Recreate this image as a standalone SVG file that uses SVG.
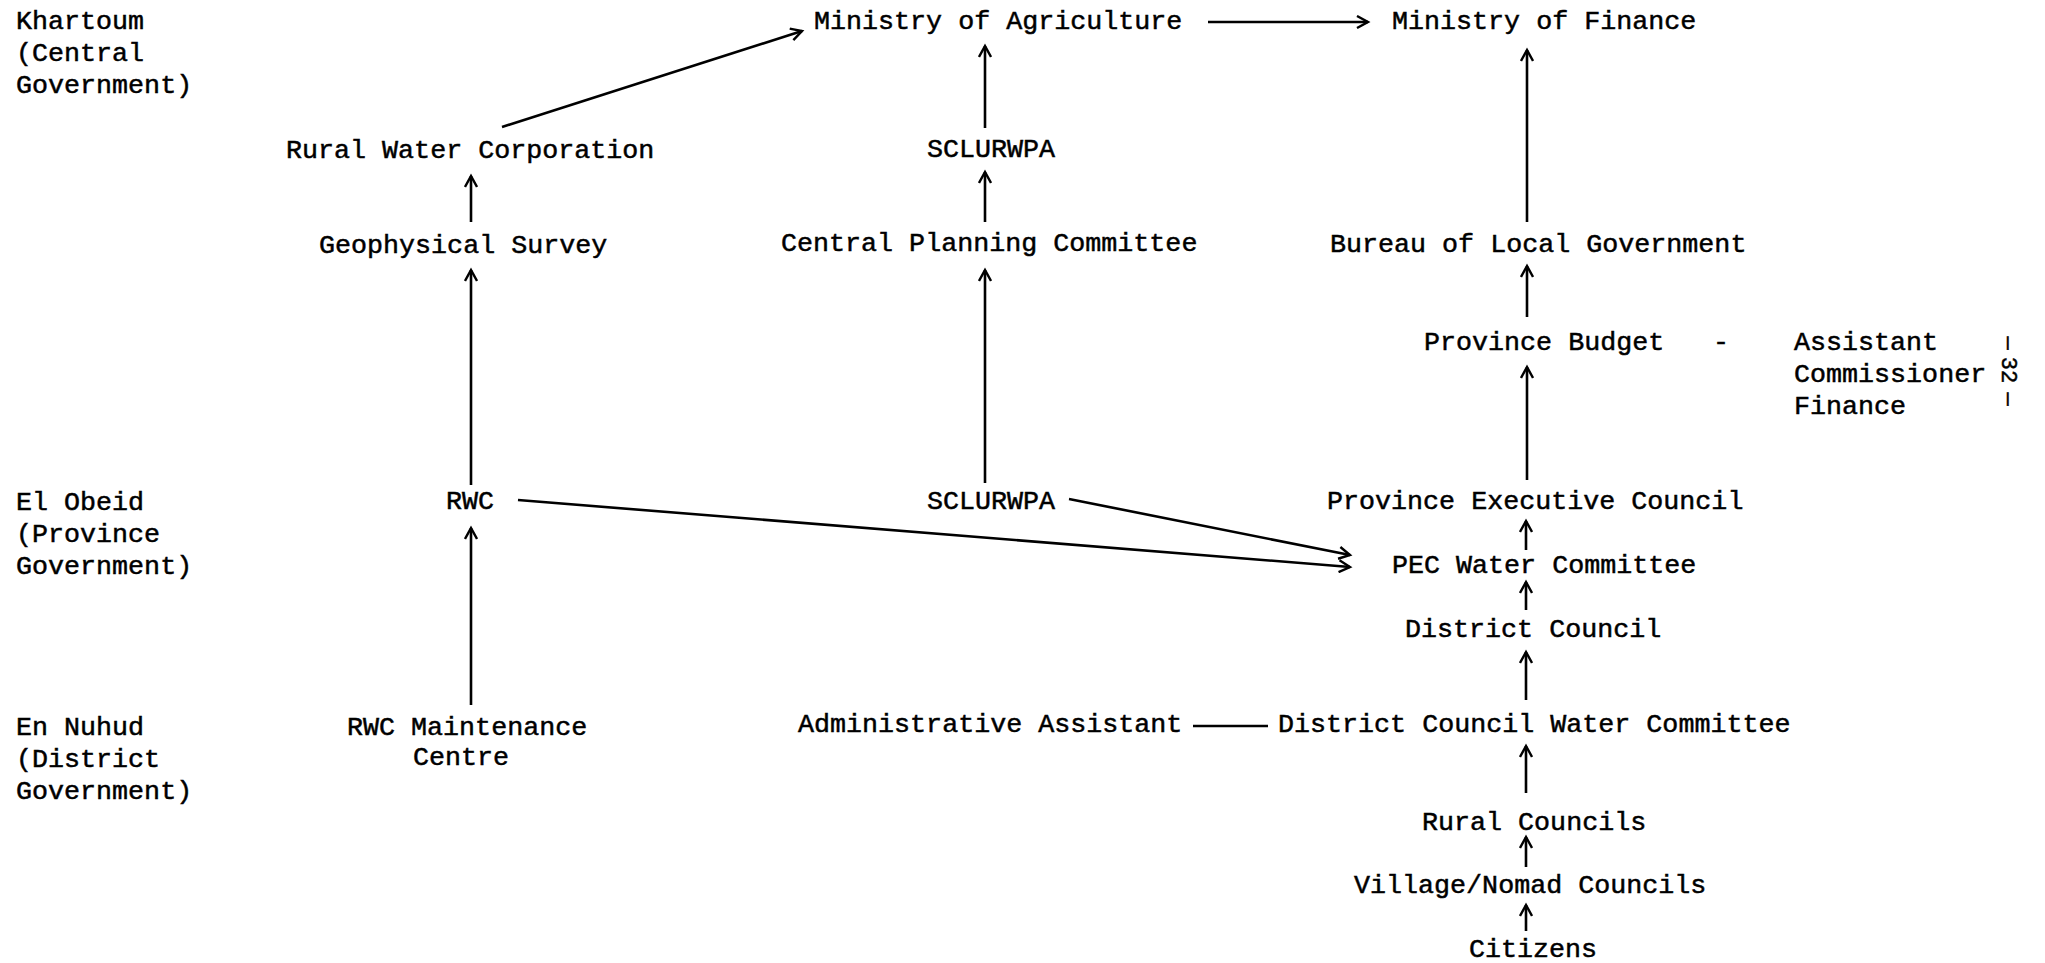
<svg xmlns="http://www.w3.org/2000/svg" width="2045" height="963" viewBox="0 0 2045 963">
<style>
text{font-family:"Liberation Mono","Courier New",monospace;font-size:26.7px;fill:#000;stroke:#000;stroke-width:0.5}
.pg{font-size:22px}
.c{stroke:#000;stroke-width:2.6;fill:none}
.a{marker-end:url(#ah)}
</style>
<defs>
<marker id="ah" markerUnits="userSpaceOnUse" markerWidth="16" markerHeight="14" refX="12" refY="7" orient="auto" viewBox="0 0 16 14">
<path d="M1,1 L12,7 L1,13" fill="none" stroke="#000" stroke-width="2.4"/>
</marker>
</defs>
<rect width="2045" height="963" fill="#fff"/>
<g id="levels">
<text x="16" y="29">Khartoum</text>
<text x="16" y="61">(Central</text>
<text x="16" y="93">Government)</text>
<text x="16" y="510">El Obeid</text>
<text x="16" y="542">(Province</text>
<text x="16" y="574">Government)</text>
<text x="16" y="735">En Nuhud</text>
<text x="16" y="767">(District</text>
<text x="16" y="799">Government)</text>
</g>
<g id="connectors">
<line class="c a" x1="502" y1="127" x2="802" y2="31"/>
<line class="c a" x1="1208" y1="22" x2="1368" y2="22"/>
<line class="c a" x1="985" y1="128" x2="985" y2="46"/>
<line class="c a" x1="985" y1="222" x2="985" y2="172"/>
<line class="c a" x1="471" y1="222" x2="471" y2="176"/>
<line class="c a" x1="471" y1="485" x2="471" y2="270"/>
<line class="c a" x1="471" y1="705" x2="471" y2="528"/>
<line class="c a" x1="985" y1="483" x2="985" y2="270"/>
<line class="c a" x1="1527" y1="222" x2="1527" y2="50"/>
<line class="c a" x1="1527" y1="317" x2="1527" y2="266"/>
<line class="c a" x1="1527" y1="480" x2="1527" y2="367"/>
<line class="c a" x1="1526" y1="550" x2="1526" y2="521"/>
<line class="c a" x1="1526" y1="610" x2="1526" y2="582"/>
<line class="c a" x1="1526" y1="700" x2="1526" y2="652"/>
<line class="c a" x1="1526" y1="793" x2="1526" y2="746"/>
<line class="c a" x1="1526" y1="867" x2="1526" y2="837"/>
<line class="c a" x1="1526" y1="931" x2="1526" y2="905"/>
<line class="c a" x1="1069" y1="499" x2="1350" y2="555"/>
<line class="c a" x1="518" y1="500" x2="1350" y2="567"/>
<line class="c" x1="1193" y1="726" x2="1268" y2="726" stroke-width="3"/>
</g>
<g id="n-minag"><text x="814" y="29">Ministry of Agriculture</text></g>
<g id="n-minfin"><text x="1392" y="29">Ministry of Finance</text></g>
<g id="n-rwcorp"><text x="286" y="158">Rural Water Corporation</text></g>
<g id="n-sclurwpa-c"><text x="927" y="157">SCLURWPA</text></g>
<g id="n-geo"><text x="319" y="253">Geophysical Survey</text></g>
<g id="n-cpc"><text x="781" y="251">Central Planning Committee</text></g>
<g id="n-blg"><text x="1330" y="252">Bureau of Local Government</text></g>
<g id="n-budget"><text x="1424" y="350">Province Budget</text><text x="1713" y="350">-</text></g>
<g id="n-acf"><text x="1794" y="350">Assistant</text><text x="1794" y="382">Commissioner</text><text x="1794" y="414">Finance</text></g>
<g id="page">
<text class="pg" transform="translate(2002,343) rotate(90)" text-anchor="middle">—</text>
<text class="pg" transform="translate(2002,370) rotate(90)" text-anchor="middle">32</text>
<text class="pg" transform="translate(2002,399) rotate(90)" text-anchor="middle">—</text>
</g>
<g id="n-rwc"><text x="446" y="509">RWC</text></g>
<g id="n-sclurwpa-p"><text x="927" y="509">SCLURWPA</text></g>
<g id="n-pec"><text x="1327" y="509">Province Executive Council</text></g>
<g id="n-pecwc"><text x="1392" y="573">PEC Water Committee</text></g>
<g id="n-dc"><text x="1405" y="637">District Council</text></g>
<g id="n-rwcm"><text x="347" y="735">RWC Maintenance</text><text x="413" y="765">Centre</text></g>
<g id="n-admin"><text x="798" y="732">Administrative Assistant</text></g>
<g id="n-dcwc"><text x="1278" y="732">District Council Water Committee</text></g>
<g id="n-rc"><text x="1422" y="830">Rural Councils</text></g>
<g id="n-vnc"><text x="1354" y="893">Village/Nomad Councils</text></g>
<g id="n-cit"><text x="1469" y="957">Citizens</text></g>
</svg>
